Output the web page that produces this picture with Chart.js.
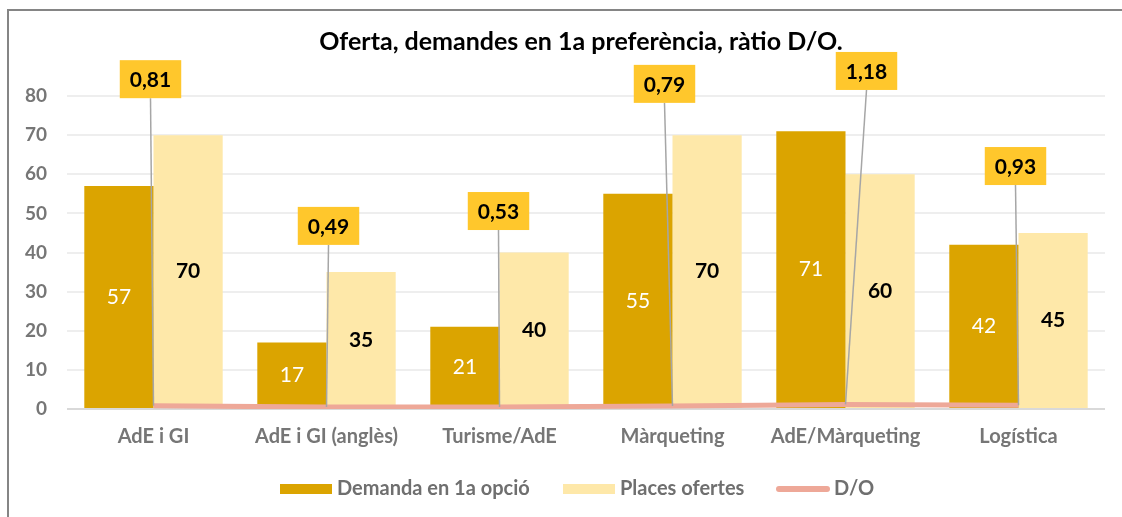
<!DOCTYPE html>
<html>
<head>
<meta charset="utf-8">
<script src="https://cdn.jsdelivr.net/npm/chart.js@4/dist/chart.umd.min.js"></script>
<style>
  html, body { margin: 0; padding: 0; background: #fff; overflow: hidden; }
  #frame {
    position: absolute; left: 7px; top: 9px;
    width: 1144px; height: 520px;
    border-left: 2px solid #858585; border-top: 2px solid #858585;
  }
  #chart { display: block; }
</style>
</head>
<body>
<div id="frame"><canvas id="chart" width="1144" height="520"></canvas></div>
<script>
// data
const categories = ['AdE i GI', 'AdE i GI (anglès)', 'Turisme/AdE', 'Màrqueting', 'AdE/Màrqueting', 'Logística'];
const demanda = [57, 17, 21, 55, 71, 42];
const places = [70, 35, 40, 70, 60, 45];
const ratio = [0.81, 0.49, 0.53, 0.79, 1.18, 0.93];
const yTicks = [0, 10, 20, 30, 40, 50, 60, 70, 80];

const FONT = 'Lato, "Open Sans", sans-serif';

// the title sits a bit right of the canvas centre in the original
const titleShift = {
  id: 'titleShift',
  afterLayout(chart, args, opts) {
    const t = chart.titleBlock;
    if (!t) return;
    t.left += opts.dx;
    t.right += opts.dx;
  }
};

// value labels on the bars, centred in each bar
const barLabels = {
  id: 'barLabels',
  afterDatasetsDraw(chart) {
    const ctx = chart.ctx;
    ctx.save();
    ctx.textAlign = 'center';
    ctx.textBaseline = 'middle';
    chart.data.datasets.forEach((ds, di) => {
      if (ds.type === 'line') return;
      ctx.font = ds.valueFont;
      ctx.fillStyle = ds.valueColor;
      chart.getDatasetMeta(di).data.forEach((bar, i) => {
        ctx.fillText(String(ds.data[i]), bar.x, (bar.y + bar.base) / 2);
      });
    });
    ctx.restore();
  }
};

// D/O callouts: yellow box with a leader line down to the point
const ratioCallouts = {
  id: 'ratioCallouts',
  afterDatasetsDraw(chart, args, opts) {
    const ctx = chart.ctx;
    const y = chart.scales.y;
    const di = chart.data.datasets.findIndex(ds => ds.type === 'line');
    const ds = chart.data.datasets[di];
    ctx.save();
    ctx.font = opts.font;
    chart.getDatasetMeta(di).data.forEach((pt, i) => {
      const text = ds.data[i].toFixed(2).replace('.', ',');
      const w = ctx.measureText(text).width + opts.padX * 2;
      const h = opts.boxH;
      const cx = pt.x + opts.dx[i];
      const cy = y.getPixelForValue(opts.at[i]);
      ctx.strokeStyle = opts.leaderColor;
      ctx.lineWidth = 1.5;
      ctx.beginPath();
      ctx.moveTo(cx, cy + h / 2);
      ctx.lineTo(pt.x, pt.y);
      ctx.stroke();
      ctx.fillStyle = opts.boxColor;
      ctx.fillRect(cx - w / 2, cy - h / 2, w, h);
      ctx.fillStyle = '#000';
      ctx.textAlign = 'center';
      ctx.textBaseline = 'middle';
      ctx.fillText(text, cx, cy + 1);
    });
    ctx.restore();
  }
};

// legend in one row, laid out like the original
const rowLegend = {
  id: 'rowLegend',
  afterDraw(chart, args, opts) {
    const ctx = chart.ctx;
    ctx.save();
    ctx.font = opts.font;
    ctx.textBaseline = 'middle';
    ctx.textAlign = 'left';
    chart.data.datasets.forEach((ds, i) => {
      const x = opts.starts[i];
      const y = opts.y;
      if (ds.type === 'line') {
        ctx.strokeStyle = ds.borderColor;
        ctx.lineWidth = 6;
        ctx.lineCap = 'round';
        ctx.beginPath();
        ctx.moveTo(x + 3, y);
        ctx.lineTo(x + 51, y);
        ctx.stroke();
        ctx.fillStyle = opts.color;
        ctx.fillText(ds.label, x + 58, y);
      } else {
        ctx.fillStyle = ds.backgroundColor;
        ctx.fillRect(x, y - 5, 52, 10);
        ctx.fillStyle = opts.color;
        ctx.fillText(ds.label, x + 57, y);
      }
    });
    ctx.restore();
  }
};

new Chart(document.getElementById('chart'), {
  type: 'bar',
  data: {
    labels: categories,
    datasets: [
      {
        label: 'Demanda en 1a opció',
        data: demanda,
        backgroundColor: '#DBA400',
        order: 1,
        valueFont: '21px ' + FONT,
        valueColor: '#FFFFFF'
      },
      {
        label: 'Places ofertes',
        data: places,
        backgroundColor: '#FEE8A9',
        order: 1,
        valueFont: 'bold 21px ' + FONT,
        valueColor: '#000000'
      },
      {
        type: 'line',
        label: 'D/O',
        data: ratio,
        borderColor: '#EEA898',
        backgroundColor: '#EEA898',
        borderWidth: 5,
        pointRadius: 0,
        tension: 0,
        order: 0
      }
    ]
  },
  options: {
    responsive: false,
    animation: false,
    devicePixelRatio: 1,
    layout: { padding: { top: 0, left: 0, right: 48, bottom: 72 } },
    datasets: { bar: { categoryPercentage: 0.8, barPercentage: 1.0 } },
    scales: {
      x: {
        grid: { display: false, drawTicks: false },
        border: { display: false },
        ticks: { color: '#767676', font: { family: FONT, size: 20, weight: 'bold' }, padding: 16 },
        afterFit(scale) { scale.height = 50; }
      },
      y: {
        min: 0,
        max: 80,
        afterBuildTicks(scale) { scale.ticks = yTicks.map(v => ({ value: v })); },
        grid: {
          color: ctx => (ctx.tick && ctx.tick.value === 0 ? '#D9D9D9' : '#EEEEEE'),
          lineWidth: 2,
          drawTicks: false
        },
        border: { display: false },
        ticks: { color: '#767676', font: { family: FONT, size: 19, weight: 'bold' }, padding: 20 },
        afterFit(scale) { scale.width = 58; }
      }
    },
    plugins: {
      legend: { display: false },
      tooltip: { enabled: false },
      title: {
        display: true,
        text: 'Oferta, demandes en 1a preferència, ràtio D/O.',
        color: '#000',
        font: { family: FONT, size: 25, weight: 'bold', lineHeight: 1.2 },
        padding: { top: 16, bottom: 39 }
      },
      titleShift: { dx: 24 },
      ratioCallouts: {
        at: [84.3, 46.8, 50.6, 83.1, 86.4, 62.1],
        dx: [-3, 2, -1, -8, 21, -3],
        font: 'bold 21px ' + FONT,
        padX: 10,
        boxH: 38,
        boxColor: '#FFC72C',
        leaderColor: '#A6A6A6'
      },
      rowLegend: {
        starts: [271, 554, 767],
        y: 478,
        font: 'bold 20px ' + FONT,
        color: '#6F6F6F'
      }
    }
  },
  plugins: [titleShift, barLabels, ratioCallouts, rowLegend]
});
</script>
</body>
</html>
